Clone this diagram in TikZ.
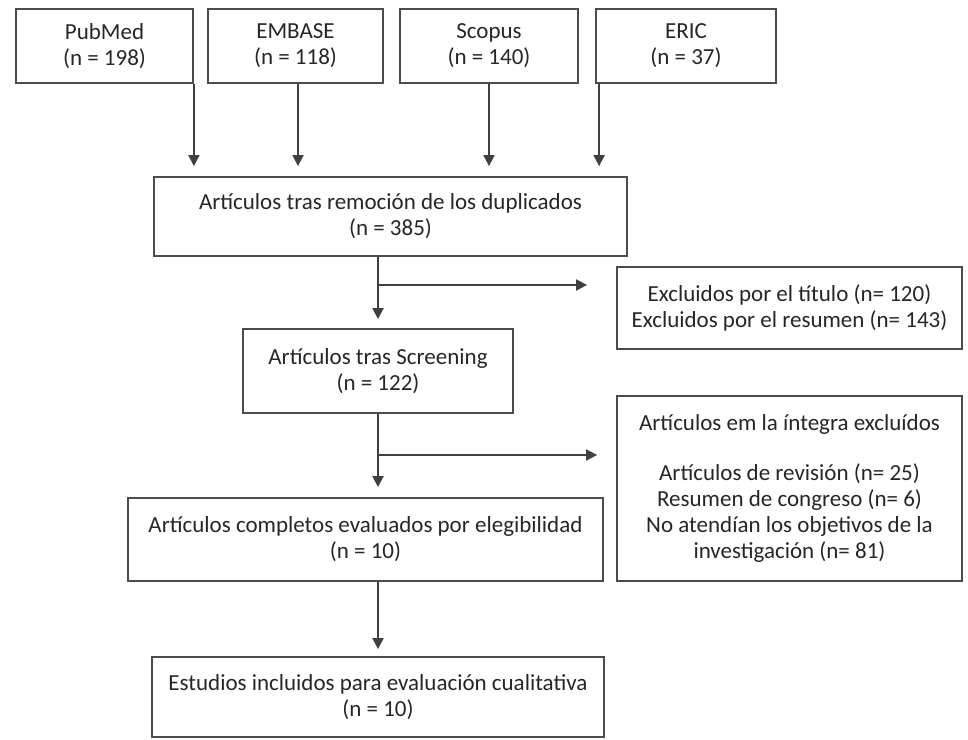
\documentclass[tikz,border=0pt]{standalone}
\usepackage{fontspec}
\setmainfont{Carlito}
\usetikzlibrary{positioning, arrows.meta, calc}

\begin{document}
\begin{tikzpicture}[x=1pt, y=-1pt,
			font=\fontsize{23}{26}\selectfont, text=black!85,
			box/.style={draw=black!70, line width=1.8pt, align=center, inner sep=2pt},
			src/.style={box, minimum height=74pt},
			ar/.style={-{Triangle[length=11pt, width=11pt]}, line width=1.8pt, draw=black!75},
			ln/.style={line width=1.8pt, draw=black!75}
			]
			\useasboundingbox (0,0) rectangle (968,739);
			\node[src, minimum width=177pt] (pubmed) at (104.5,46) {PubMed\\(n = 198)};
			\node[src, minimum width=175pt] (embase) at (295.5,46) {EMBASE\\(n = 118)};
			\node[src, minimum width=178pt] (scopus) at (489,46) {Scopus\\(n = 140)};
			\node[src, minimum width=180pt] (eric) at (686,46) {ERIC\\(n = 37)};
			\node[box, minimum width=473pt, minimum height=79pt] (dup) at (390.5,216.5) {Artículos tras remoción de los duplicados\\(n = 385)};
			\node[box, minimum width=270pt, minimum height=84pt] (scr) at (378,371) {Artículos tras Screening\\(n = 122)};
			\node[box, minimum width=475pt, minimum height=83pt] (elig) at (365.5,539.5) {Artículos completos evaluados por elegibilidad\\(n = 10)};
			\node[box, minimum width=452pt, minimum height=80pt] (incl) at (378,697) {Estudios incluidos para evaluación cualitativa\\(n = 10)};
			\node[box, minimum width=345pt, minimum height=82pt] (excl1) at (789.5,308) {Excluidos por el título (n= 120)\\Excluidos por el resumen (n= 143)};
			\node[box, minimum width=345pt, minimum height=185pt] (excl2) at (789.5,488.5) {Artículos em la íntegra excluídos\\[24pt]Artículos de revisión (n= 25)\\Resumen de congreso (n= 6)\\No atendían los objetivos de la\\investigación (n= 81)};
			\draw[ar, shorten >=10pt] (pubmed.south east) -- (pubmed.south east |- dup.north);
			\draw[ar, shorten >=10pt] ([xshift=2.5pt]embase.south) -- ([xshift=2.5pt]embase.south |- dup.north);
			\draw[ar, shorten >=10pt] (scopus.south) -- (scopus.south |- dup.north);
			\draw[ar, shorten >=10pt] ([xshift=4pt]eric.south west) -- ([xshift=4pt]eric.south west |- dup.north);
			\draw[ar, shorten >=9pt] (scr.north |- dup.south) -- (scr.north);
			\coordinate (b1) at (378,285);
			\draw[ar, shorten >=29pt] (b1) -- (b1 -| excl1.west);
			\draw[ar, shorten >=10pt] (scr.south) -- (scr.south |- elig.north);
			\coordinate (b2) at (378,455);
			\draw[ar, shorten >=19pt] (b2) -- (b2 -| excl2.west);
			\draw[ar, shorten >=7pt] (incl.north |- elig.south) -- (incl.north);
		\end{tikzpicture}
\end{document}
